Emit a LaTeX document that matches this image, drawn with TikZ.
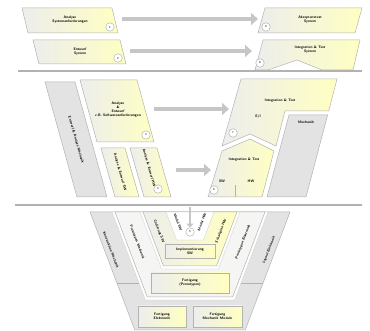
\documentclass[tikz,border=0pt]{standalone}
\usepackage{tikz}
\usetikzlibrary{arrows.meta, calc}
\tikzstyle{bigarrow} = [line width=4.5pt, gray!45, -{Triangle[length=7pt, width=12pt]}]
\tikzstyle{smallarrow} = [line width=2.5pt, gray!45, -{Triangle[length=4pt, width=7pt]}]

\begin{document}
\begin{tikzpicture}[x=1pt, y=-1pt,
    panel/.style={draw=gray!60, line width=0.5pt, left color=gray!14, right color=yellow!24},
    mech/.style={draw=gray!60, line width=0.5pt, fill=gray!22},
    gap/.style={fill=white, draw=gray!40, line width=0.3pt},
    lbl/.style={font=\fontsize{3.6}{4}\selectfont\sffamily\bfseries, align=center, text=black, inner sep=0pt},
    num/.style={circle, draw=gray!70, fill=white, inner sep=0pt, minimum size=8.5pt, font=\fontsize{3}{3}\selectfont\sffamily},
    sep/.style={line width=1.6pt, gray!60},
]
\useasboundingbox (0,0) rectangle (370,331);

% System level
\draw[panel] (22,8) -- (112,8) -- (118,33) -- (28,33) -- cycle;
\node[lbl] (sysreq) at (70,20) {Analyse\\Systemanforderungen};
\node[num] (n1) at (110,27) {1};

\draw[panel] (33,40) -- (120,40) -- (126,64) -- (39,64) -- cycle;
\node[lbl] (sysdes) at (80,52) {Entwurf\\System};
\node[num] (n2) at (118,58) {2};

\draw[panel] (265,8) -- (362,8) -- (355,33) -- (258,33) -- cycle;
\node[lbl] (systest) at (310,20) {Akzeptanztest\\System};
\node[num] (n9) at (266,27) {9};

\draw[panel] (263,40) -- (360,40) -- (353,70) -- (322,70) -- (297,60) -- (268,70) -- (255,70) -- cycle;
\node[lbl] (sysint) at (310,50) {Integration \& Test\\System};
\node[num] (n8) at (260,63) {8};

\coordinate (a1s) at (122,19);
\coordinate (a1e) at (258,19);
\coordinate (a2s) at (130,51);
\coordinate (a2e) at (252,51);
\draw[bigarrow] (a1s) -- (a1e);
\draw[bigarrow] (a2s) -- (a2e);

\coordinate (s1l) at (18,71);
\coordinate (s1r) at (362,71);
\draw[sep] (s1l) -- (s1r);

% Subsystem level
\draw[mech] (45,82) -- (75,82) -- (107,197) -- (77,197) -- cycle;
\node[lbl, rotate=-74] (mechdes) at (76,140) {Entwurf \& Analyse Mechanik};

\draw[panel] (80,80) -- (137,80) -- (154,142) -- (97,142) -- cycle;
\node[lbl] (subdes) at (118,110) {Analyse\\\&\\Entwurf\\z.B. Softwareanforderungen};
\node[num] (n3) at (146,135) {3};

\draw[panel] (101,148) -- (125,148) -- (139,197) -- (115,197) -- cycle;
\node[lbl, rotate=-74] (swdes) at (120,172) {Analyse \& Entwurf SW};
\draw[panel] (130,148) -- (157,148) -- (171,197) -- (144,197) -- cycle;
\node[lbl, rotate=-74] (hwdes) at (149,168) {Analyse \& Entwurf HW};
\node[num] (n4) at (158,189) {4};

\draw[panel] (241,79) -- (337,79) -- (328.7,111) -- (285,111) -- (276,146) -- (250,134) -- (222,146) -- cycle;
\node[lbl] (eiint) at (280,101) {Integration \& Test};
\node[lbl] (ei) at (258,117) {E/I};
\node[num] (n7) at (233,133) {7};

\draw[mech] (289,115) -- (327.6,115) -- (306,197) -- (267,197) -- cycle;
\node[lbl] (mech) at (306,122) {Mechanik};

\draw[panel] (222,151) -- (250,139) -- (274,151) -- (262,197) -- (208,197) -- cycle;
\draw[gray!60, line width=0.5pt] (235,185) -- (235,197);
\node[lbl] (swhwint) at (244,160) {Integration \& Test};
\node[lbl] (sw) at (222,181) {SW};
\node[lbl] (hw) at (251,181) {HW};
\node[num] (n6) at (214,190) {6};

\coordinate (a3s) at (154,109);
\coordinate (a3e) at (229,109);
\coordinate (a4s) at (176,170);
\coordinate (a4e) at (211,170);
\draw[bigarrow] (a3s) -- (a3e);
\draw[bigarrow] (a4s) -- (a4e);

\coordinate (s2l) at (15,205);
\coordinate (s2r) at (362,205);
\draw[sep] (s2l) -- (s2r);

% Component level
\draw[mech] (90,212) -- (290,212) -- (245.2,330) -- (134.8,330) -- cycle;
\draw[gap] (112,212) -- (268,212) -- (234.6,300) -- (145.4,300) -- cycle;
\draw[gray!60, line width=0.5pt] (117,283) -- (139,283);
\draw[gray!60, line width=0.5pt] (263,283) -- (241,283);
\node[lbl, rotate=-69] (konmech) at (111,250) {Konstruktion Mechanik};
\node[lbl, rotate=69] (konel) at (269,250) {Layout Elektronik};

\draw[panel] (138,306) rectangle (186,327);
\node[lbl] (fertel) at (162,316.5) {Fertigung\\Elektronik};
\draw[panel] (193,306) rectangle (242,327);
\node[lbl] (fertmech) at (217.5,316.5) {Fertigung\\Mechanik Module};

\draw[gray!60, line width=0.5pt, fill=yellow!8!gray!10] (115,212) -- (265,212) -- (232.7,297) -- (147.3,297) -- cycle;
\node[lbl, rotate=-69] (protmech) at (137,242) {Prototypen Mechanik};
\node[lbl, rotate=69] (protel) at (243,242) {Prototypen Elektronik};
\draw[panel] (151,273) rectangle (229,293);
\node[lbl] (fertproto) at (190,283) {Fertigung\\(Prototypen)};

\draw[gap] (140,212) -- (240,212) -- (218.4,269) -- (161.6,269) -- cycle;
\draw[panel] (143,212) -- (237,212) -- (216.5,266) -- (163.5,266) -- cycle;
\node[lbl, rotate=-69] (codsw) at (159,231) {Codierung SW};
\node[lbl, rotate=69] (schalt) at (221,231) {Schaltplan HW};
\draw[panel] (165,244) rectangle (215,258);
\node[lbl] (impl) at (190,251) {Implementierung\\SW};

\draw[gap] (166,212) -- (214,212) -- (203.4,240) -- (176.6,240) -- cycle;
\node[lbl, rotate=-69] (modsw) at (178,222) {Modul SW};
\node[lbl, rotate=69] (modhw) at (202,222) {Modul HW};
\node[num] (n5) at (190,232) {5};
\coordinate (a5s) at (190,207);
\draw[smallarrow] (a5s) -- (n5);

\end{tikzpicture}
\end{document}
